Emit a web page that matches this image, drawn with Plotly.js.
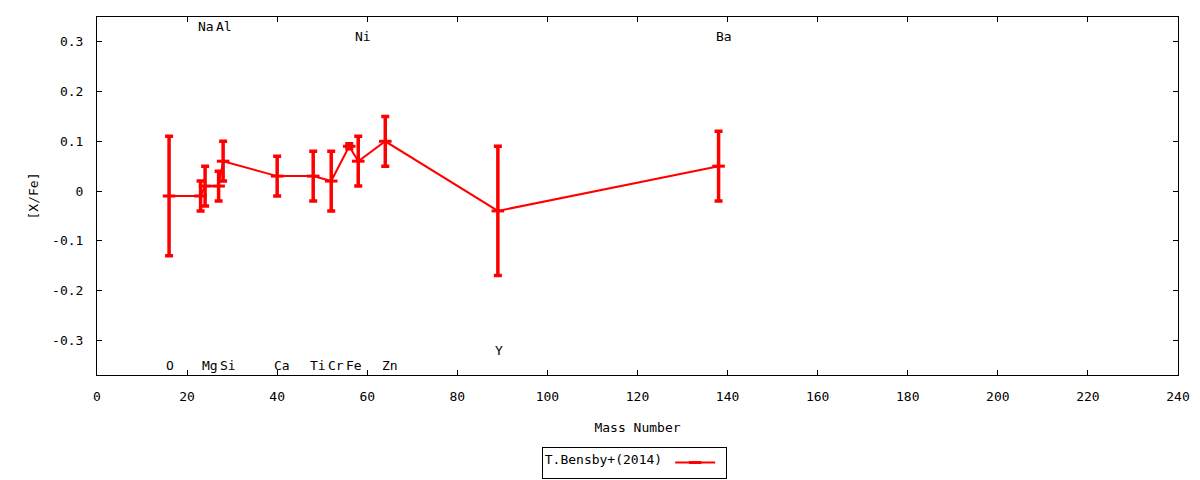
<!DOCTYPE html>
<html>
<head>
<meta charset="utf-8">
<script src="https://cdn.plot.ly/plotly-3.0.1.min.js"></script>
<style>
  html, body { margin: 0; padding: 0; background: #ffffff; }
  #abundance-chart { width: 1200px; height: 480px; }
</style>
</head>
<body>
<div id="abundance-chart"></div>
<script>
// [X/Fe] vs mass number, T.Bensby+(2014)
const elements   = ['O', 'Na', 'Mg', 'Al', 'Si', 'Ca', 'Ti', 'Cr', 'Fe', 'Ni', 'Zn', 'Y', 'Ba'];
const massNumber = [16, 23, 24, 27, 28, 40, 48, 52, 56, 58, 64, 89, 138];
const xFe        = [-0.01, -0.01, 0.01, 0.01, 0.06, 0.03, 0.03, 0.02, 0.09, 0.06, 0.10, -0.04, 0.05];
const xFeErr     = [0.12, 0.03, 0.04, 0.03, 0.04, 0.04, 0.05, 0.06, 0.005, 0.05, 0.05, 0.13, 0.07];
const labelY     = [-0.35, 0.33, -0.35, 0.33, -0.35, -0.35, -0.35, -0.35, -0.35, 0.31, -0.35, -0.32, 0.31];

const yTickVals = [-0.3, -0.2, -0.1, 0, 0.1, 0.2, 0.3];
const yTickText = ['-0.3', '-0.2', '-0.1', '0', '0.1', '0.2', '0.3'];

const FONT = 'DejaVu Sans Mono';
const RED = '#ff0000';
const txt = { family: FONT, size: 13, color: '#000000' };

const traceBensby = {
    x: massNumber, y: xFe,
    name: '',
    type: 'scatter', mode: 'lines+markers',
    line: { color: RED, width: 2 },
    marker: { symbol: 'line-ew', size: 9, color: RED, line: { color: RED, width: 3 } },
    error_y: { type: 'data', array: xFeErr, visible: true, color: RED, thickness: 3.5, width: 4 },
    showlegend: true
};

// element names, placed next to each mass number
const labels = elements.map((el, i) => ({
    x: massNumber[i], y: labelY[i], xref: 'x', yref: 'y',
    text: el, showarrow: false, xanchor: 'left', yanchor: 'middle', xshift: -5,
    font: txt
}));

const layout = {
    width: 1200, height: 480,
    paper_bgcolor: '#ffffff', plot_bgcolor: '#ffffff',
    margin: { l: 97, r: 22, t: 17, b: 105, autoexpand: false },
    font: txt,
    showlegend: true,
    legend: {
        x: 0.497, xanchor: 'center', y: -0.2, yanchor: 'top',
        bordercolor: '#000000', borderwidth: 1, bgcolor: '#ffffff',
        itemwidth: 40,
        title: { text: 'T.Bensby+(2014)', side: 'left', font: txt },
        font: txt
    },
    xaxis: {
        range: [0, 240], tick0: 0, dtick: 20, automargin: false,
        ticks: 'inside', ticklen: 5, tickcolor: '#000000', tickfont: txt,
        showline: true, linecolor: '#000000', linewidth: 1, mirror: 'ticks',
        showgrid: false, zeroline: false, ticklabelstandoff: 9,
        title: { text: 'Mass Number', font: txt, standoff: 20 }
    },
    yaxis: {
        range: [-0.37, 0.35], tickvals: yTickVals, ticktext: yTickText, automargin: false,
        ticks: 'inside', ticklen: 5, tickcolor: '#000000', tickfont: txt,
        showline: true, linecolor: '#000000', linewidth: 1, mirror: 'ticks',
        showgrid: false, zeroline: false, ticklabelstandoff: 10,
        title: { text: '[X/Fe]', font: txt, standoff: 10 }
    },
    annotations: labels
};

Plotly.newPlot('abundance-chart', [traceBensby], layout, { displayModeBar: false });
</script>
</body>
</html>
